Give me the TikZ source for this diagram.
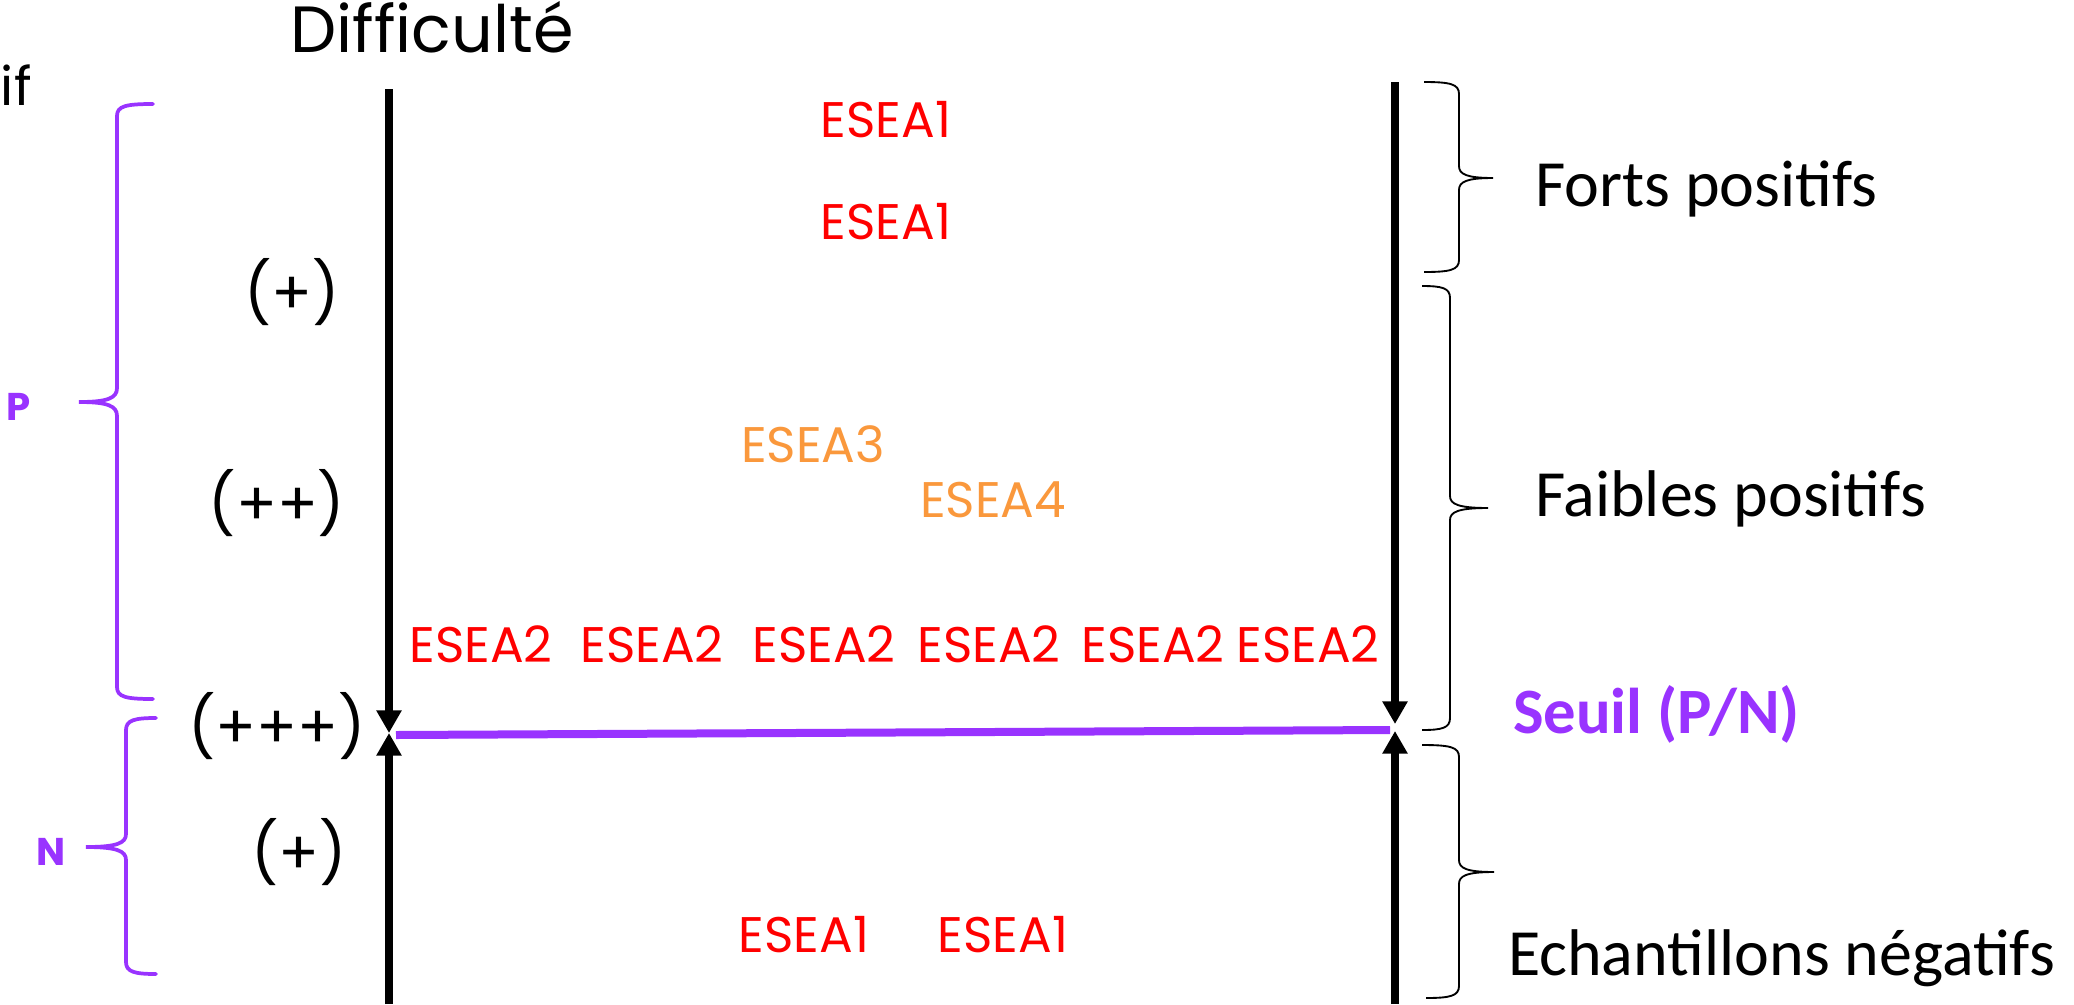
\documentclass[tikz,border=0pt]{standalone}
\usepackage{fontspec}
\setmainfont{Poppins}
\newfontfamily\calib{Carlito}
\usetikzlibrary{arrows.meta}
\definecolor{esred}{RGB}{255,0,0}
\definecolor{esorange}{RGB}{250,152,60}
\definecolor{seuilpurple}{RGB}{153,51,255}
\begin{document}
\begin{tikzpicture}[x=0.75pt,y=-0.75pt,
  every node/.style={inner sep=0pt,outer sep=0pt},
  axisline/.style={line width=5.4pt,-{Triangle[length=17pt,width=18pt]}},
  seuilline/.style={line width=6pt,draw=seuilpurple},
  pbrace/.style={draw=seuilpurple,line width=2.8pt,line cap=round},
  kbrace/.style={draw=black,line width=1.4pt},
  titletxt/.style={font={\fontsize{49}{56}\selectfont},anchor=base},
  lvltxt/.style={font={\fontsize{45}{54}\selectfont}},
  esea/.style={font={\fontsize{37.5}{44}\selectfont},text=esred},
  eseao/.style={font={\fontsize{37.5}{44}\selectfont},text=esorange},
  pnlab/.style={font={\fontsize{29}{34}\selectfont\bfseries},text=seuilpurple},
  cattxt/.style={font={\calib\fontsize{49.5}{58}\selectfont},anchor=base west},
  seuiltxt/.style={font={\calib\bfseries\fontsize{48.5}{56}\selectfont},anchor=base west,text=seuilpurple}
]
\useasboundingbox[fill=white] (0,0) rectangle (2074,1004);

% titles
\node[titletxt] (diff) at (432,52) {Difficulté};
\node[font={\fontsize{40}{46}\selectfont},anchor=base west] (ifcut) at (1,105) {if};

% axes
\coordinate (Ltop) at (389,89);
\coordinate (Lmid) at (389,733);
\coordinate (Lbot) at (389,1004);
\coordinate (Rtop) at (1395,82);
\coordinate (Rmidd) at (1395,724);
\coordinate (Rmidu) at (1395,731);
\coordinate (Rbot) at (1395,1004);
\draw[axisline] (Ltop) -- (Lmid);
\draw[axisline] (Lbot) -- (Lmid);
\draw[axisline] (Rtop) -- (Rmidd);
\draw[axisline] (Rbot) -- (Rmidu);

% threshold line
\coordinate (sL) at (396,735);
\coordinate (sR) at (1390,730);
\draw[seuilline] (sL) -- (sR);

% level labels
\node[lvltxt] (l1) at (292,292) {(+)};
\node[lvltxt] (l2) at (277,503) {(++)};
\node[lvltxt] (l3) at (277,726) {(+++)};
\node[lvltxt] (l4) at (299,852) {(+)};

% ESEA labels
\node[esea] (e1a) at (886,120) {ESEA1};
\node[esea] (e1b) at (886,222) {ESEA1};
\node[eseao] (e3) at (813,444) {ESEA3};
\node[eseao] (e4) at (993,500) {ESEA4};
\node[esea] (e2a) at (481,644) {ESEA2};
\node[esea] (e2b) at (652,644) {ESEA2};
\node[esea] (e2c) at (824,644) {ESEA2};
\node[esea] (e2d) at (989,644) {ESEA2};
\node[esea] (e2e) at (1153,644) {ESEA2};
\node[esea] (e2f) at (1308,644) {ESEA2};
\node[esea] (e1c) at (804,935) {ESEA1};
\node[esea] (e1d) at (1003,935) {ESEA1};

% P / N braces
\draw[pbrace] (153,104) .. controls (126,104) and (117,106) .. (117,116) -- (117,388)
  .. controls (117,398) and (108,402) .. (79,402)
  .. controls (108,402) and (117,406) .. (117,416) -- (117,687)
  .. controls (117,697) and (126,699) .. (153,699);
\draw[pbrace] (156,718) .. controls (135,718) and (126,720) .. (126,730) -- (126,834)
  .. controls (126,843) and (117,847) .. (86,847)
  .. controls (117,847) and (126,851) .. (126,860) -- (126,962)
  .. controls (126,972) and (135,974) .. (156,974);
\node[pnlab] (plab) at (19,407) {P};
\node[pnlab] (nlab) at (51,852) {N};

% right braces
\draw[kbrace] (1424,82) .. controls (1450,82) and (1459,84) .. (1459,94) -- (1459,166)
  .. controls (1459,174) and (1466,178) .. (1493,178)
  .. controls (1466,178) and (1459,182) .. (1459,190) -- (1459,260)
  .. controls (1459,270) and (1450,272) .. (1424,272);
\draw[kbrace] (1422,286) .. controls (1442,286) and (1450,288) .. (1450,298) -- (1450,496)
  .. controls (1450,504) and (1458,508) .. (1488,508)
  .. controls (1458,508) and (1450,512) .. (1450,520) -- (1450,718)
  .. controls (1450,728) and (1442,730) .. (1422,730);
\draw[kbrace] (1422,745) .. controls (1450,745) and (1459,747) .. (1459,757) -- (1459,860)
  .. controls (1459,868) and (1466,872) .. (1494,872)
  .. controls (1466,872) and (1459,876) .. (1459,884) -- (1459,986)
  .. controls (1459,996) and (1450,998) .. (1426,998);

% category texts
\node[cattxt] (forts) at (1535,206) {Forts positifs};
\node[cattxt] (faibles) at (1535,516) {Faibles positifs};
\node[seuiltxt] (seuil) at (1513,733) {Seuil (P/N)};
\node[cattxt] (negs) at (1508,975) {Echantillons négatifs};
\end{tikzpicture}
\end{document}
